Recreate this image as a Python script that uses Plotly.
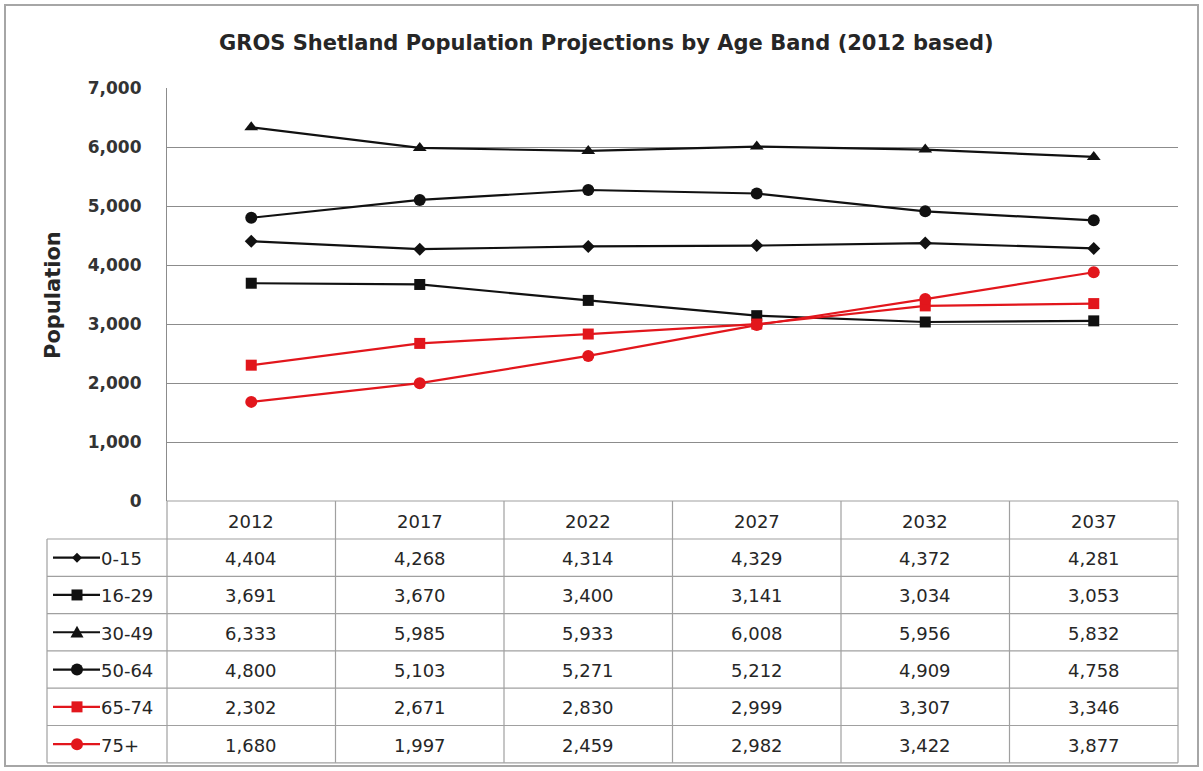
import plotly.graph_objects as go

years = ["2012", "2017", "2022", "2027", "2032", "2037"]
bands = ["0-15", "16-29", "30-49", "50-64", "65-74", "75+"]
v_0_15 = [4404, 4268, 4314, 4329, 4372, 4281]
v_16_29 = [3691, 3670, 3400, 3141, 3034, 3053]
v_30_49 = [6333, 5985, 5933, 6008, 5956, 5832]
v_50_64 = [4800, 5103, 5271, 5212, 4909, 4758]
v_65_74 = [2302, 2671, 2830, 2999, 3307, 3346]
v_75p = [1680, 1997, 2459, 2982, 3422, 3877]
series_values = [v_0_15, v_16_29, v_30_49, v_50_64, v_65_74, v_75p]
y_ticks = [0, 1000, 2000, 3000, 4000, 5000, 6000, 7000]

BLACK = "#111111"
RED = "#e2161c"
colors = [BLACK, BLACK, BLACK, BLACK, RED, RED]
symbols = ["diamond", "square", "triangle-up", "circle", "square", "circle"]
msizes = [10, 11, 12, 12, 11, 12]

W, H = 1203, 771
L, R, T, B = 167, 1178, 88, 501
PW, PH = R - L, B - T

def px(x):
    return (x - L) / PW

def py(y):
    return (B - y) / PH

FONT = "'DejaVu Sans', 'Open Sans', sans-serif"
GRID = "#8c8c8c"
TXT = "#262626"

fig = go.Figure()
xs = [i + 0.5 for i in range(len(years))]
for name, vals, c, s, ms in zip(bands, series_values, colors, symbols, msizes):
    fig.add_trace(go.Scatter(
        x=xs, y=vals, mode="lines+markers", name=name,
        line=dict(color=c, width=2.2),
        marker=dict(symbol=s, size=ms, color=c),
        showlegend=False, cliponaxis=False,
    ))

shapes = []
annotations = []

def key_marker(symbol, cx, cy, color):
    """Legend-key marker drawn as a shape in pixel space."""
    if symbol == "circle":
        r = 6
        return dict(type="circle", xref="paper", yref="paper",
                    x0=px(cx - r), x1=px(cx + r), y0=py(cy + r), y1=py(cy - r),
                    fillcolor=color, line=dict(color=color, width=0))
    if symbol == "square":
        h = 5.5
        return dict(type="rect", xref="paper", yref="paper",
                    x0=px(cx - h), x1=px(cx + h), y0=py(cy + h), y1=py(cy - h),
                    fillcolor=color, line=dict(color=color, width=0))
    if symbol == "diamond":
        h = 5
        pts = [(cx, cy - h), (cx + h, cy), (cx, cy + h), (cx - h, cy)]
    else:  # triangle-up
        h = 6.5
        pts = [(cx, cy - h), (cx + h, cy + h * 0.8), (cx - h, cy + h * 0.8)]
    path = "M " + " L ".join(f"{px(a):.5f},{py(b):.5f}" for a, b in pts) + " Z"
    return dict(type="path", xref="paper", yref="paper", path=path,
                fillcolor=color, line=dict(color=color, width=0))

# outer border
shapes.append(dict(type="rect", xref="paper", yref="paper",
                   x0=px(5), x1=px(1198), y0=py(5), y1=py(766),
                   line=dict(color="#a6a6a6", width=2), layer="below"))

# data table
row_h = 37.3
header_top = B
header_bot = 539
row_tops = [header_bot + i * row_h for i in range(len(bands) + 1)]
tbl_bottom = row_tops[-1]
legend_left = 47
col_w = PW / len(years)

line_style = dict(color="#a0a0a0", width=1.2)
shapes.append(dict(type="line", xref="paper", yref="paper",
                   x0=px(L), x1=px(R), y0=py(header_top), y1=py(header_top), line=line_style))
for yt in row_tops:
    shapes.append(dict(type="line", xref="paper", yref="paper",
                       x0=px(legend_left), x1=px(R), y0=py(yt), y1=py(yt), line=line_style))
for i in range(len(years) + 1):
    xv = L + i * col_w
    shapes.append(dict(type="line", xref="paper", yref="paper",
                       x0=px(xv), x1=px(xv), y0=py(header_top), y1=py(tbl_bottom), line=line_style))
shapes.append(dict(type="line", xref="paper", yref="paper",
                   x0=px(legend_left), x1=px(legend_left), y0=py(header_bot), y1=py(tbl_bottom), line=line_style))

cell_font = dict(family=FONT, size=18, color=TXT)
for i, yr in enumerate(years):
    annotations.append(dict(xref="paper", yref="paper", x=px(L + (i + 0.5) * col_w),
                            y=py((header_top + header_bot) / 2 + 1), text=yr, showarrow=False,
                            font=cell_font, xanchor="center", yanchor="middle"))

for r, (name, vals, c, s) in enumerate(zip(bands, series_values, colors, symbols)):
    yc = (row_tops[r] + row_tops[r + 1]) / 2
    for i, v in enumerate(vals):
        annotations.append(dict(xref="paper", yref="paper", x=px(L + (i + 0.5) * col_w),
                                y=py(yc + 1), text=f"{v:,}", showarrow=False,
                                font=cell_font, xanchor="center", yanchor="middle"))
    shapes.append(dict(type="line", xref="paper", yref="paper",
                       x0=px(53), x1=px(100), y0=py(yc), y1=py(yc),
                       line=dict(color=c, width=2.2)))
    shapes.append(key_marker(s, 77, yc, c))
    annotations.append(dict(xref="paper", yref="paper", x=px(99), y=py(yc + 1),
                            text=name, showarrow=False, font=cell_font,
                            xanchor="left", yanchor="middle"))

annotations.append(dict(xref="paper", yref="paper", x=px(606), y=py(43),
                        text="<b>GROS Shetland Population Projections by Age Band (2012 based)</b>",
                        showarrow=False, font=dict(family=FONT, size=21, color=TXT),
                        xanchor="center", yanchor="middle"))
annotations.append(dict(xref="paper", yref="paper", x=px(53), y=py(295),
                        text="<b>Population</b>", textangle=-90,
                        showarrow=False, font=dict(family=FONT, size=21, color=TXT),
                        xanchor="center", yanchor="middle"))

fig.update_layout(
    width=W, height=H,
    margin=dict(l=L, r=W - R, t=T, b=H - B),
    paper_bgcolor="white", plot_bgcolor="white",
    shapes=shapes, annotations=annotations,
    xaxis=dict(range=[0, len(years)], showgrid=False, zeroline=False,
               showticklabels=False, ticks="", showline=False, fixedrange=True),
    yaxis=dict(range=[0, 7000], tickvals=y_ticks, ticktext=[f"{t:,}" for t in y_ticks],
               showgrid=True, gridcolor=GRID, gridwidth=1.2, zeroline=False,
               showline=True, linecolor=GRID, linewidth=1.2,
               ticks="", ticklabelstandoff=21,
               tickfont=dict(family=FONT, size=17, color="#333333", weight="bold"),
               fixedrange=True),
    showlegend=False,
)

fig.write_html("out.html")
